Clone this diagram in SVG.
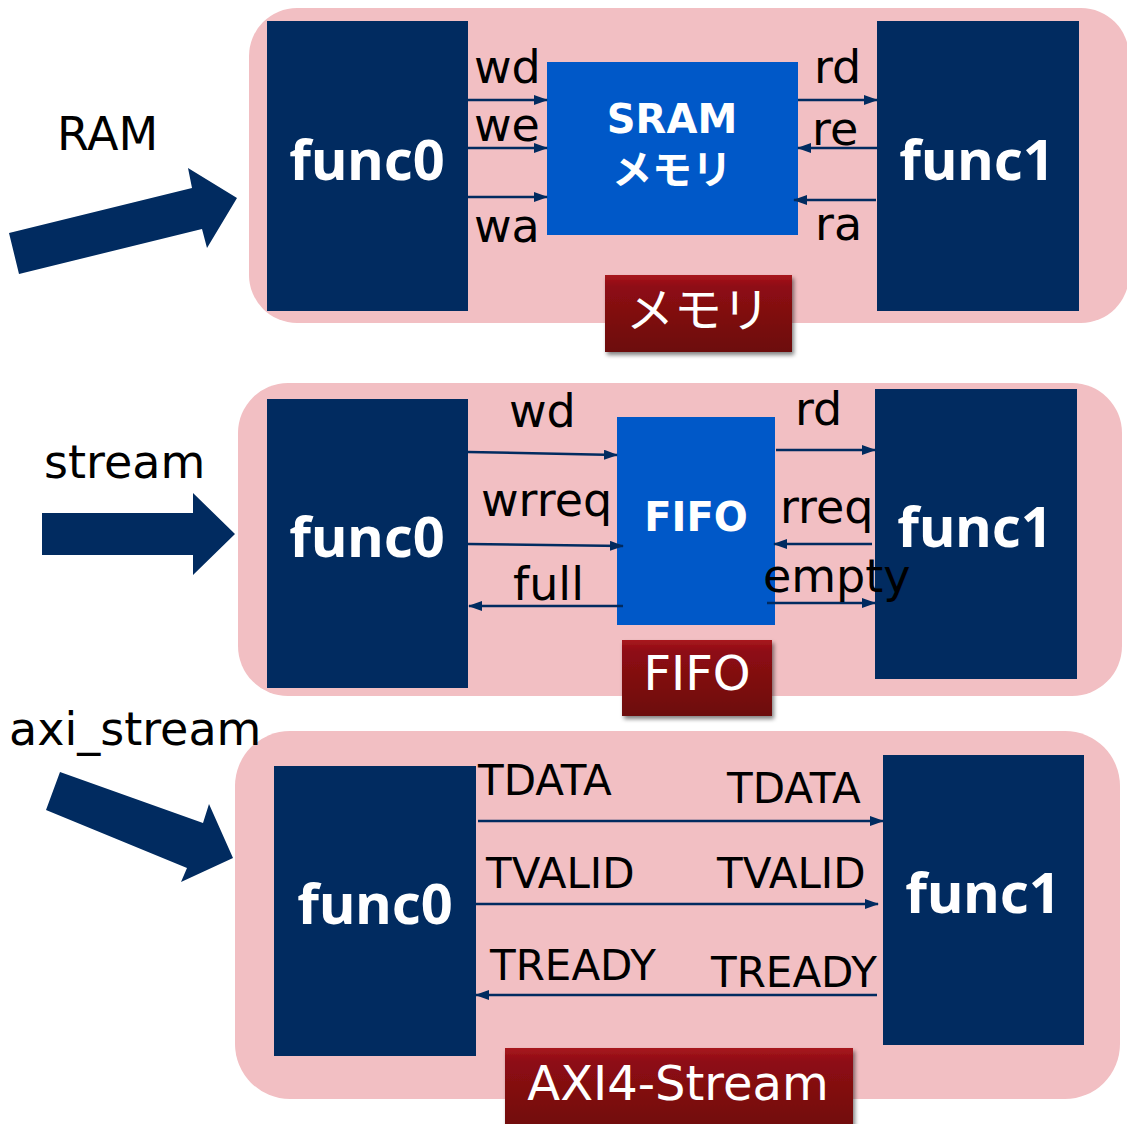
<svg xmlns="http://www.w3.org/2000/svg" width="1127" height="1124" viewBox="0 0 1127 1124">
<defs>
<marker id="ah" markerWidth="14" markerHeight="10" refX="13" refY="5" orient="auto" markerUnits="userSpaceOnUse">
<path d="M0,0 L14,5 L0,10 Z" fill="#012B60"/>
</marker>
<linearGradient id="redg" x1="0" y1="0" x2="0" y2="1">
<stop offset="0" stop-color="#A8161E"/>
<stop offset="0.15" stop-color="#8E0C13"/>
<stop offset="1" stop-color="#6C070C"/>
</linearGradient>
<filter id="sh" x="-10%" y="-10%" width="130%" height="140%">
<feGaussianBlur in="SourceAlpha" stdDeviation="2"/>
<feOffset dx="2" dy="3" result="b"/>
<feComponentTransfer><feFuncA type="linear" slope="0.5"/></feComponentTransfer>
<feMerge><feMergeNode/><feMergeNode in="SourceGraphic"/></feMerge>
</filter>
</defs>
<style>
.panel{fill:#F2BFC3}
.func{fill:#012B60}
.blue{fill:#0058C8}
.ft{font-family:"Noto Sans","Noto Sans CJK JP",sans-serif;font-weight:bold;fill:#fff;text-anchor:middle}
.bt{font-family:"DejaVu Sans","Noto Sans CJK JP",sans-serif;font-weight:bold;fill:#fff;text-anchor:middle;font-size:40px}
.lbl{font-family:"DejaVu Sans","Noto Sans CJK JP",sans-serif;fill:#000;font-size:46px}
.sig{font-size:42px}
.tag{font-family:"DejaVu Sans","Noto Sans CJK JP",sans-serif;fill:#fff;font-size:48px;text-anchor:middle}
.wire{stroke:#012B60;stroke-width:2.5;fill:none;marker-end:url(#ah)}
.big{fill:#012B60}
</style>
<rect width="1127" height="1124" fill="#fff"/>

<!-- panels -->
<g id="panel-ram"><rect class="panel" x="249" y="8" width="880" height="315" rx="48"/></g>
<g id="panel-fifo"><rect class="panel" x="238" y="383" width="884" height="313" rx="50"/></g>
<g id="panel-axi"><rect class="panel" x="235" y="731" width="885" height="368" rx="55"/></g>

<!-- side labels and big arrows -->
<g id="ram-input">
<text class="lbl" x="57" y="150">RAM</text>
<polygon class="big" points="9,233 192,188 188,168 237,198 207,248 202,229 19,274"/>
</g>
<g id="stream-input">
<text class="lbl" x="44" y="478">stream</text>
<polygon class="big" points="42,513 193,513 193,493 235,534 193,575 193,555 42,555"/>
</g>
<g id="axi-input">
<text class="lbl" x="9" y="745">axi_stream</text>
<polygon class="big" points="60,772 203,823 209,804 233,858 181,882 187,868 46,810"/>
</g>

<!-- RAM section nodes -->
<g id="ram-func0"><rect class="func" x="267" y="21" width="201" height="290"/><text class="ft" x="367" y="180" font-size="56">func0</text></g>
<g id="ram-func1"><rect class="func" x="877" y="21" width="202" height="290"/><text class="ft" x="977" y="180" font-size="56">func1</text></g>
<g id="sram"><rect class="blue" x="547" y="62" width="251" height="173"/>
<text class="bt" x="672" y="133">SRAM</text>
<text class="bt" x="672" y="184">メモリ</text></g>
<g id="tag-memory"><rect x="605" y="275" width="187" height="77" fill="url(#redg)" filter="url(#sh)"/>
<text class="tag" x="698" y="327" font-size="46">メモリ</text></g>

<!-- FIFO section nodes -->
<g id="fifo-func0"><rect class="func" x="267" y="399" width="201" height="289"/><text class="ft" x="367" y="557" font-size="56">func0</text></g>
<g id="fifo-func1"><rect class="func" x="875" y="389" width="202" height="290"/><text class="ft" x="975" y="547" font-size="56">func1</text></g>
<g id="fifo"><rect class="blue" x="617" y="417" width="158" height="208"/>
<text class="bt" x="696" y="531">FIFO</text></g>
<g id="tag-fifo"><rect x="622" y="640" width="150" height="76" fill="url(#redg)" filter="url(#sh)"/>
<text class="tag" x="697" y="690">FIFO</text></g>

<!-- AXI section nodes -->
<g id="axi-func0"><rect class="func" x="274" y="766" width="202" height="290"/><text class="ft" x="375" y="924" font-size="56">func0</text></g>
<g id="axi-func1"><rect class="func" x="883" y="755" width="201" height="290"/><text class="ft" x="983" y="913" font-size="56">func1</text></g>
<g id="tag-axi"><rect x="505" y="1048" width="348" height="90" fill="url(#redg)" filter="url(#sh)"/>
<text class="tag" x="678" y="1100">AXI4-Stream</text></g>

<!-- connectors -->
<g id="connectors">
<line class="wire" x1="468" y1="100" x2="547" y2="100"/>
<line class="wire" x1="468" y1="148" x2="547" y2="148"/>
<line class="wire" x1="468" y1="197" x2="547" y2="197"/>
<line class="wire" x1="798" y1="100" x2="877" y2="100"/>
<line class="wire" x1="877" y1="148" x2="798" y2="148"/>
<line class="wire" x1="876" y1="200" x2="794" y2="200"/>

<line class="wire" x1="468" y1="452" x2="617" y2="455"/>
<line class="wire" x1="468" y1="544" x2="623" y2="546"/>
<line class="wire" x1="623" y1="606" x2="469" y2="606"/>
<line class="wire" x1="776" y1="450" x2="875" y2="450"/>
<line class="wire" x1="872" y1="544" x2="774" y2="544"/>
<line class="wire" x1="767" y1="603" x2="875" y2="603"/>

<line class="wire" x1="478" y1="821" x2="883" y2="821"/>
<line class="wire" x1="476" y1="904" x2="878" y2="904"/>
<line class="wire" x1="877" y1="995" x2="476" y2="995"/>
</g>

<!-- connector labels -->
<g id="labels">
<text class="lbl" x="474" y="83">wd</text>
<text class="lbl" x="474" y="141">we</text>
<text class="lbl" x="474" y="242">wa</text>
<text class="lbl" x="814" y="83">rd</text>
<text class="lbl" x="812" y="145">re</text>
<text class="lbl" x="815" y="240">ra</text>

<text class="lbl" x="509" y="427">wd</text>
<text class="lbl" x="481" y="516">wrreq</text>
<text class="lbl" x="513" y="600">full</text>
<text class="lbl" x="795" y="425">rd</text>
<text class="lbl" x="780" y="523">rreq</text>
<text class="lbl" x="763" y="592">empty</text>

<text class="lbl sig" x="478" y="795">TDATA</text>
<text class="lbl sig" x="727" y="803">TDATA</text>
<text class="lbl sig" x="486" y="888">TVALID</text>
<text class="lbl sig" x="717" y="888">TVALID</text>
<text class="lbl sig" x="490" y="980">TREADY</text>
<text class="lbl sig" x="711" y="987">TREADY</text>
</g>
</svg>
